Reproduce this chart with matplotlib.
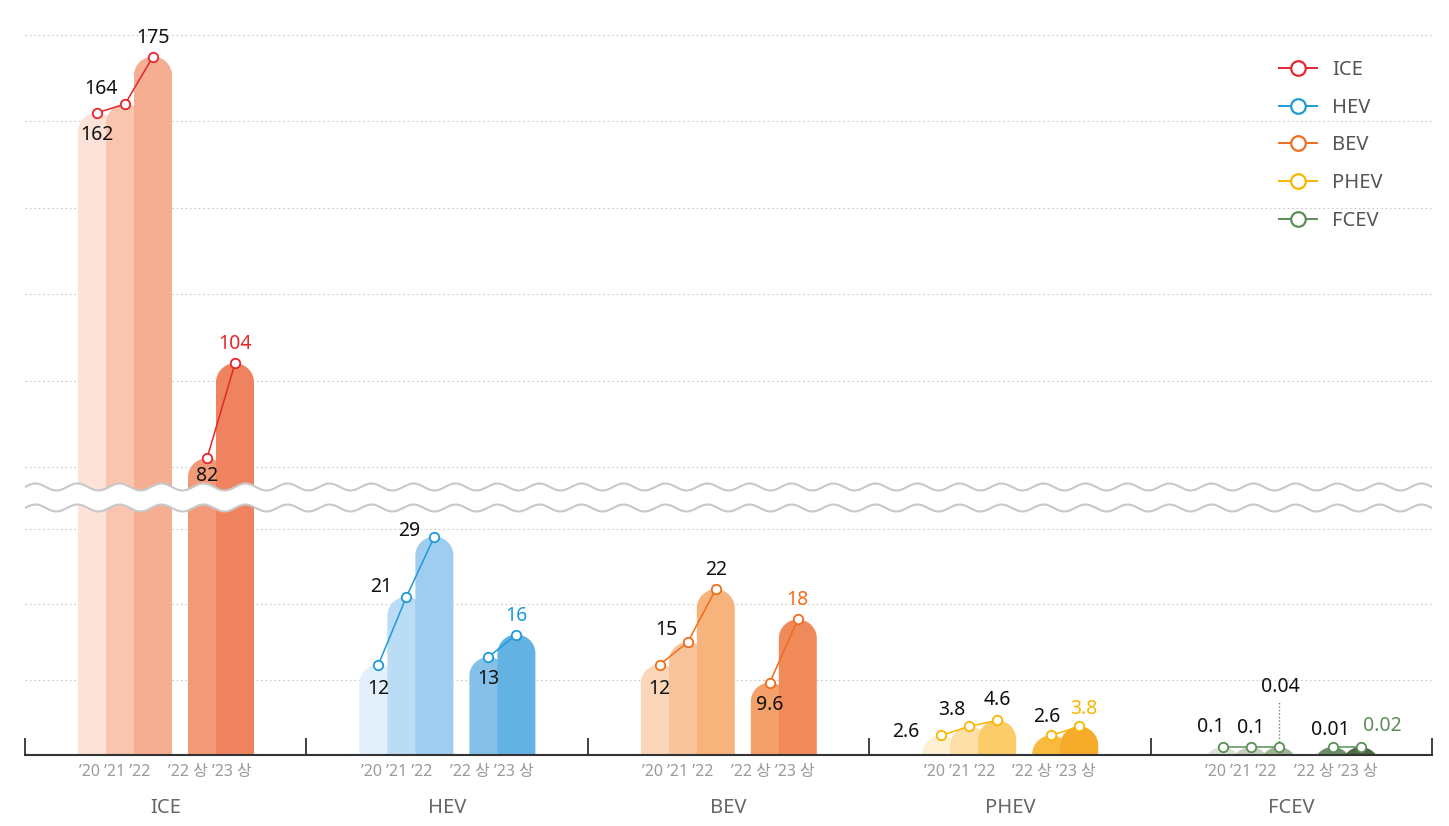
import numpy as np
import matplotlib
matplotlib.use("Agg")
import matplotlib.pyplot as plt
from matplotlib.patches import Polygon
from matplotlib.lines import Line2D

plt.rcParams['font.family'] = ['Noto Sans', 'Noto Sans CJK KR', 'DejaVu Sans']

# ---------------- data ----------------
categories = ['ICE', 'HEV', 'BEV', 'PHEV', 'FCEV']
periods_annual = ["’20 ’21 ’22"]
periods_half = ["’22 상 ’23 상"]
ice = [162, 164, 175, 82, 104]
hev = [12, 21, 29, 13, 16]
bev = [12, 15, 22, 9.6, 18]
phev = [2.6, 3.8, 4.6, 2.6, 3.8]
fcev = [0.1, 0.1, 0.04, 0.01, 0.02]
series = [ice, hev, bev, phev, fcev]

# ---------------- styles ----------------
line_colors = ['#e5262d', '#1f9ad8', '#ef6d1c', '#f7b600', '#5a8f56']
bar_colors = [
    ['#fde2d7', '#f9c5ae', '#f5ae92', '#f29a78', '#f0835f'],
    ['#e3f0fb', '#badcf5', '#9fcdef', '#86c0e8', '#62b2e3'],
    ['#fbd6b8', '#f8c49c', '#f6b47c', '#f3a06b', '#f08a5a'],
    ['#fef0d2', '#fde0a8', '#fccb6a', '#f9ba40', '#f6ab2b'],
    ['#dde3d6', '#c6d0bd', '#9fb394', '#6f8c66', '#4d6845'],
]
# label offsets (px) relative to marker: (dx, dy) dy>0 means below
label_off = [
    [(0, 22), (-24, -15), (0, -19), (0, 18), (0, -19)],
    [(0, 24), (-25, -10), (-25, -6), (0, 22), (0, -19)],
    [(0, 24), (-21, -12), (0, -19), (0, 22), (0, -19)],
    [(-35, -3), (-17, -16), (0, -20), (-4, -18), (5, -17)],
    [(-12, -20), (0, -19), (2, -60), (-2, -17), (22, -21)],
]

W, H = 1449, 826
GW = 1407 / 5
BAR_W = 38
offsets = [53, 81, 109, 163, 191]
MIN_H = 8


def fwd(v):
    # broken axis: 0-33 lower scale, 76+ upper scale
    return np.interp(v, [0, 33, 76, 200], [0, 248.5, 270.7, 806.4])


def bar_height(v):
    return max(float(fwd(v)), MIN_H)


fig = plt.figure(figsize=(W / 100, H / 100), dpi=100)
ax = fig.add_axes([25 / W, 71 / H, 1407 / W, 755 / H])
ax.set_xlim(0, 1407)
ax.set_ylim(0, 755)

# gridlines
for gv in [10, 20, 30, 80, 100, 120, 140, 160, 180]:
    ax.axhline(fwd(gv), color='#c9c9c9', lw=0.8, ls=(0, (1.5, 2.5)), zorder=0)


def rounded_bar(x0, w, h, color, z):
    r = w / 2
    t = np.linspace(np.pi, 0, 60)
    cx = x0 + r
    cy = h - r
    pts = [(x0, -60)] + list(zip(cx + r * np.cos(t), cy + r * np.sin(t))) + [(x0 + w, -60)]
    ax.add_patch(Polygon(pts, closed=True, facecolor=color, edgecolor='none', zorder=z))


for gi, vals in enumerate(series):
    gx = gi * GW
    xs, ys = [], []
    for j, v in enumerate(vals):
        x0 = gx + offsets[j]
        h = bar_height(v)
        rounded_bar(x0, BAR_W, h, bar_colors[gi][j], 1 + j * 0.1)
        xs.append(x0 + BAR_W / 2)
        ys.append(h)
    lc = line_colors[gi]
    for sl in (slice(0, 3), slice(3, 5)):
        ax.plot(xs[sl], ys[sl], color=lc, lw=1.1, marker='o', ms=6.8,
                mfc='white', mec=lc, mew=1.3, zorder=6)
    for j, v in enumerate(vals):
        dx, dy = label_off[gi][j]
        col = lc if j == 4 else '#111111'
        ax.text(xs[j] + dx, ys[j] - dy, f"{v:g}", ha='center', va='center',
                fontsize=14, color=col, zorder=7)
    if gi == 4:
        ax.plot([xs[2], xs[2]], [ys[2] + 5, ys[2] + 45], ls=(0, (1, 1.5)),
                color=lc, lw=1, zorder=5)
    # period labels
    ax.text(gx + 90, -17, periods_annual[0], ha='center', va='center',
            fontsize=11.5, color='#9a9a9a')
    ax.text(gx + 185, -17, periods_half[0], ha='center', va='center',
            fontsize=11.5, color='#9a9a9a')
    ax.text(gx + GW / 2, -53, categories[gi], ha='center', va='center',
            fontsize=14.5, color='#666666')

# axis break (wavy)
wx = np.linspace(0, 1407, 3000)
amp, per = 3.5, 42
wave = amp * np.sin(2 * np.pi * wx / per)
up = 268 + wave
lo = 247 + wave
ax.fill_between(wx, lo, up, color='white', zorder=3, lw=0)
ax.plot(wx, up, color='#c8c8c8', lw=1.5, zorder=3.5)
ax.plot(wx, lo, color='#c8c8c8', lw=1.5, zorder=3.5)

# axes styling
for s in ['top', 'right', 'left']:
    ax.spines[s].set_visible(False)
ax.spines['bottom'].set_color('#333333')
ax.spines['bottom'].set_linewidth(1.5)
ax.spines['bottom'].set_zorder(8)
ax.set_xticks(np.arange(6) * GW)
ax.set_xticklabels([])
ax.tick_params(axis='x', direction='in', length=12.5, width=1.3, color='#333333')
ax.set_yticks([])

# legend
handles = [Line2D([0], [0], color=c, lw=1.4, marker='o', ms=10.5, mfc='white',
                  mec=c, mew=1.6) for c in line_colors]
leg = fig.legend(handles, categories, loc='upper left',
                 bbox_to_anchor=(1279 / W, 1 - 60 / H), frameon=False,
                 fontsize=14.5, handlelength=1.9, handletextpad=0.75,
                 labelspacing=0.88, borderpad=0, borderaxespad=0)
for t in leg.get_texts():
    t.set_color('#555555')

fig.savefig('out.png', dpi=100)
